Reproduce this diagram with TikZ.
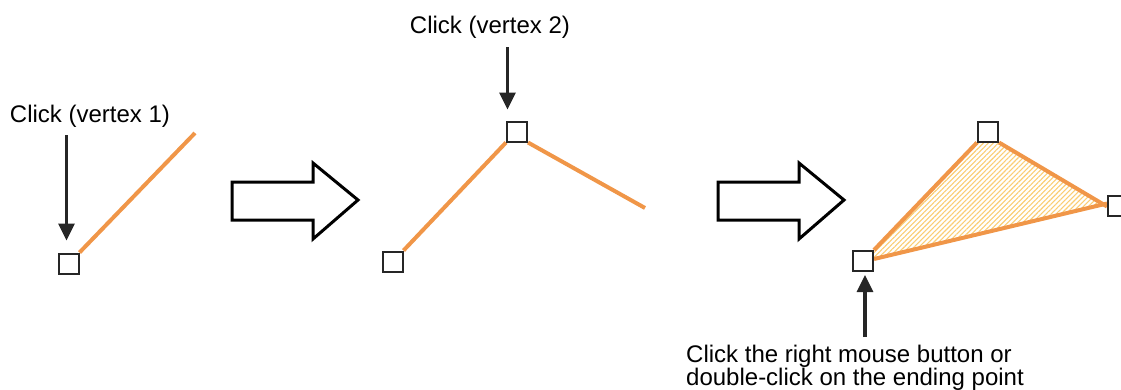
\documentclass[tikz,border=0pt]{standalone}
\usepackage{fontspec}
\setmainfont{Liberation Sans}
\usetikzlibrary{arrows.meta,patterns.meta}
\definecolor{edgeor}{RGB}{240,150,72}
\definecolor{hatchor}{RGB}{250,205,115}
\tikzset{
  vtx/.style={draw=black!85,line width=2pt,fill=white,minimum size=20pt,inner sep=0pt,rectangle},
  edge/.style={draw=edgeor,line width=4pt},
  pointer/.style={draw=black!85,line width=3.2pt,-{Triangle[length=17pt,width=16pt]}},
  bigarrow/.style={draw=black,line width=3pt,fill=white,line join=miter},
  lbl/.style={font=\fontsize{24}{21}\selectfont,inner sep=0pt},
}
\begin{document}
\begin{tikzpicture}[x=1pt,y=-1pt]
\useasboundingbox (0,0) rectangle (1121,389);
% ---------- panel 1
\coordinate (e1) at (195,133);
\node[vtx] (v1) at (68.5,263.5) {};
\draw[edge] (v1.north east) -- (e1);
\node[lbl,anchor=base] (t1) at (90,122) {Click (vertex 1)};
\coordinate (p1) at (66.5,135);
\draw[pointer] (p1) -- ([yshift=12pt]v1.north -| p1);
% ---------- big arrow 1
\draw[bigarrow] (232,182) -- (313,182) -- (313,163) -- (358,200) -- (313,239) -- (313,220) -- (232,220) -- cycle;
% ---------- panel 2
\node[vtx] (w1) at (392.5,261.5) {};
\node[vtx] (w2) at (517,131.5) {};
\coordinate (e2) at (645,208);
\draw[edge] (w1.north east) -- (w2.south west);
\draw[edge] (w2.south east) -- (e2);
\node[vtx] at (w2) {};
\node[lbl,anchor=base] (t2) at (490,33) {Click (vertex 2)};
\coordinate (p2) at (507.5,47);
\draw[pointer] (p2) -- ([yshift=11pt]w2.north -| p2);
% ---------- big arrow 2
\draw[bigarrow] (718,182) -- (799,182) -- (799,163) -- (844,200) -- (799,239) -- (799,220) -- (718,220) -- cycle;
% ---------- panel 3
\node[vtx] (a) at (863,261) {};
\node[vtx] (b) at (988,131.5) {};
\node[vtx] (c) at (1118,205.5) {};
\fill[pattern={Lines[angle=45,distance=3.5pt,line width=1.1pt]},pattern color=hatchor]
  ([yshift=-2pt]a.north east) -- ([xshift=1pt]b.south west) -- (b.south east) -- ([yshift=-1pt]c.west) -- ([yshift=2pt]c.west) -- ([yshift=2pt]a.east) -- cycle;
\draw[edge] (a.north east) -- (b.south west);
\draw[edge] (b.south east) -- ([yshift=-1pt]c.west);
\draw[edge] ([yshift=2pt]c.west) -- ([yshift=2pt]a.east);
\node[vtx] at (a) {};
\node[vtx] at (b) {};
\node[vtx] at (c) {};
\coordinate (p3) at (865,337);
\draw[pointer] (p3) -- ([yshift=-3pt]a.south -| p3);
\node[lbl,anchor=north west,align=left] (t3) at (686,344.5) {Click the right mouse button or\\double-click on the ending point};
\end{tikzpicture}
\end{document}
